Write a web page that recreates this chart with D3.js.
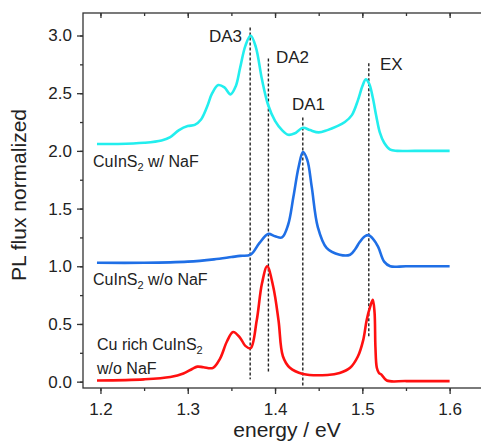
<!DOCTYPE html>
<html>
<head>
<meta charset="utf-8">
<script src="https://cdn.jsdelivr.net/npm/d3@7"></script>
<style>
  body { margin: 0; background: #fff; }
  svg { font-family: "Liberation Sans", Arial, sans-serif; }
  .axis path, .axis line { stroke: #333; stroke-width: 1.3; }
  .axis text { font-size: 17px; fill: #222; }
</style>
</head>
<body>
<svg id="chart" width="481" height="441"></svg>
<script>
// CuInS2 w/ NaF (offset +2)
var withNaF_E  = [1.196, 1.22, 1.25, 1.27, 1.28, 1.29, 1.30, 1.308, 1.315, 1.322, 1.328, 1.335, 1.342, 1.349, 1.355, 1.36, 1.366, 1.372, 1.378, 1.385, 1.392, 1.40, 1.408, 1.415, 1.422, 1.432, 1.44, 1.45, 1.46, 1.47, 1.48, 1.488, 1.495, 1.50, 1.504, 1.508, 1.512, 1.516, 1.52, 1.525, 1.532, 1.54, 1.56, 1.60];
var withNaF_PL = [2.06, 2.06, 2.07, 2.09, 2.12, 2.18, 2.215, 2.225, 2.27, 2.38, 2.50, 2.57, 2.55, 2.49, 2.56, 2.72, 2.91, 3.00, 2.90, 2.62, 2.40, 2.26, 2.18, 2.14, 2.15, 2.20, 2.18, 2.16, 2.18, 2.21, 2.25, 2.31, 2.44, 2.56, 2.62, 2.58, 2.46, 2.30, 2.16, 2.07, 2.01, 2.00, 2.00, 2.00];

// CuInS2 w/o NaF (offset +1)
var withoutNaF_E  = [1.196, 1.25, 1.30, 1.33, 1.35, 1.36, 1.372, 1.382, 1.392, 1.40, 1.408, 1.415, 1.421, 1.427, 1.432, 1.437, 1.442, 1.449, 1.459, 1.474, 1.486, 1.492, 1.497, 1.503, 1.507, 1.512, 1.518, 1.525, 1.532, 1.55, 1.60];
var withoutNaF_PL = [1.03, 1.03, 1.04, 1.06, 1.08, 1.09, 1.10, 1.20, 1.28, 1.26, 1.25, 1.36, 1.60, 1.86, 1.99, 1.92, 1.69, 1.34, 1.16, 1.10, 1.10, 1.15, 1.21, 1.26, 1.27, 1.24, 1.17, 1.04, 1.00, 1.00, 1.00];

// Cu rich CuInS2 w/o NaF
var cuRich_E  = [1.196, 1.25, 1.28, 1.295, 1.305, 1.311, 1.318, 1.329, 1.337, 1.345, 1.352, 1.36, 1.366, 1.372, 1.379, 1.385, 1.391, 1.398, 1.404, 1.409, 1.417, 1.432, 1.46, 1.474, 1.486, 1.495, 1.501, 1.505, 1.509, 1.512, 1.514, 1.515, 1.5166, 1.519, 1.522, 1.528, 1.55, 1.60];
var cuRich_PL = [0.01, 0.02, 0.04, 0.07, 0.11, 0.13, 0.125, 0.12, 0.20, 0.35, 0.43, 0.38, 0.31, 0.29, 0.53, 0.85, 1.00, 0.82, 0.53, 0.22, 0.12, 0.067, 0.058, 0.075, 0.12, 0.22, 0.36, 0.535, 0.65, 0.71, 0.60, 0.30, 0.12, 0.075, 0.06, 0.01, 0.005, 0.005];

// transition markers
var markerNames  = ["DA3", "DA2", "DA1", "EX"];
var markerE      = [1.3715, 1.3924, 1.4318, 1.5074];
var markerTop    = [3.07, 2.80, 2.29, 2.76];
var markerBottom = [0.02, 0.08, -0.05, 0.38];

var xTicks = [1.2, 1.3, 1.4, 1.5, 1.6];
var yTicks = [0.0, 0.5, 1.0, 1.5, 2.0, 2.5, 3.0];

var svg = d3.select("#chart");
var plotLeft = 83, plotRight = 491, plotTop = 13, plotBottom = 388;

var x = d3.scaleLinear().domain([1.18, 1.6474]).range([plotLeft, plotRight]);
var y = d3.scaleLinear().domain([-0.055, 3.195]).range([plotBottom, plotTop]);

// frame
svg.append("rect")
  .attr("x", plotLeft).attr("y", plotTop)
  .attr("width", plotRight - plotLeft).attr("height", plotBottom - plotTop)
  .attr("fill", "none").attr("stroke", "#333").attr("stroke-width", 1.3);

// axes: major + minor ticks
function minor(a, b, step) {
  var out = [];
  for (var v = a; v <= b + 1e-9; v += step) out.push(+v.toFixed(3));
  return out;
}
function noDomain(g) { g.select(".domain").remove(); }

svg.append("g").attr("class", "axis")
  .attr("transform", "translate(0," + plotBottom + ")")
  .call(d3.axisBottom(x).tickValues(minor(1.2, 1.6, 0.05)).tickSize(3).tickFormat(""))
  .call(noDomain);
svg.append("g").attr("class", "axis")
  .attr("transform", "translate(0," + plotBottom + ")")
  .call(d3.axisBottom(x).tickValues(xTicks).tickSize(6).tickPadding(9).tickFormat(d3.format(".1f")))
  .call(noDomain);

svg.append("g").attr("class", "axis")
  .attr("transform", "translate(0," + plotTop + ")")
  .call(d3.axisBottom(x).tickValues(minor(1.2, 1.6, 0.05)).tickSize(3).tickFormat(""))
  .call(noDomain);
svg.append("g").attr("class", "axis")
  .attr("transform", "translate(0," + plotTop + ")")
  .call(d3.axisBottom(x).tickValues(xTicks).tickSize(5).tickFormat(""))
  .call(noDomain);

svg.append("g").attr("class", "axis")
  .attr("transform", "translate(" + plotLeft + ",0)")
  .call(d3.axisLeft(y).tickValues(minor(0, 3, 0.25)).tickSize(3).tickFormat(""))
  .call(noDomain);
svg.append("g").attr("class", "axis")
  .attr("transform", "translate(" + plotLeft + ",0)")
  .call(d3.axisLeft(y).tickValues(yTicks).tickSize(6).tickPadding(5).tickFormat(d3.format(".1f")))
  .call(noDomain);

// axis titles
svg.append("text")
  .attr("x", 287).attr("y", 437)
  .attr("text-anchor", "middle")
  .style("font-size", "21px").attr("fill", "#222")
  .text("energy / eV");
svg.append("text")
  .attr("transform", "translate(26,195) rotate(-90)")
  .attr("text-anchor", "middle")
  .style("font-size", "21px").attr("fill", "#222")
  .text("PL flux normalized");

// dashed marker lines
markerE.forEach(function (e, i) {
  svg.append("line")
    .attr("x1", x(e)).attr("x2", x(e))
    .attr("y1", y(markerTop[i])).attr("y2", y(markerBottom[i]))
    .attr("stroke", "#222").attr("stroke-width", 1.4)
    .attr("stroke-dasharray", "3,2");
});

// curves
var line = d3.line().curve(d3.curveCatmullRom.alpha(0.5));
function drawCurve(es, vs, color) {
  svg.append("path")
    .attr("d", line(es.map(function (e, i) { return [x(e), y(vs[i])]; })))
    .attr("fill", "none")
    .attr("stroke", color)
    .attr("stroke-width", 2.6)
    .attr("stroke-linejoin", "round");
}
drawCurve(withNaF_E, withNaF_PL, "#22eeee");
drawCurve(withoutNaF_E, withoutNaF_PL, "#1f6fe6");
drawCurve(cuRich_E, cuRich_PL, "#ff1010");

// marker labels
var labelPos = [[242, 42, "end"], [276, 63, "start"], [292, 110, "start"], [380, 70, "start"]];
markerNames.forEach(function (n, i) {
  svg.append("text")
    .attr("x", labelPos[i][0]).attr("y", labelPos[i][1])
    .attr("text-anchor", labelPos[i][2])
    .style("font-size", "17px").attr("fill", "#222")
    .text(n);
});

// series labels
function seriesLabel(px, py, before, after) {
  var t = svg.append("text").attr("x", px).attr("y", py)
    .style("font-size", "16px").attr("fill", "#222");
  t.append("tspan").text(before);
  t.append("tspan").attr("dy", 4).style("font-size", "11px").text("2");
  if (after) t.append("tspan").attr("dy", -4).text(after);
}
seriesLabel(93, 167, "CuInS", " w/ NaF");
seriesLabel(93, 285, "CuInS", " w/o NaF");
seriesLabel(97, 350, "Cu rich CuInS", "");
svg.append("text").attr("x", 97).attr("y", 374)
  .style("font-size", "16px").attr("fill", "#222")
  .text("w/o NaF");
</script>
</body>
</html>
